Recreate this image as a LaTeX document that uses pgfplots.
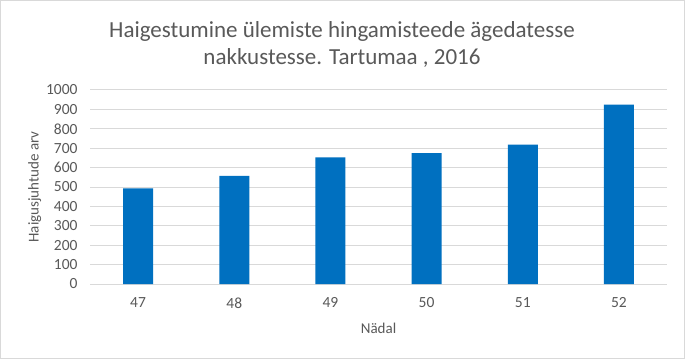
\documentclass[border=0pt]{standalone}
\usepackage{pgfplots}
\pgfplotsset{compat=1.18}
\usepackage{fontspec}
\setmainfont{Carlito}
\definecolor{barblue}{HTML}{0070C0}
\definecolor{gridgray}{HTML}{D9D9D9}
\definecolor{txtgray}{HTML}{595959}
\begin{document}
\begin{tikzpicture}[x=1bp,y=1bp]
\draw[draw=gridgray, line width=1bp, fill=white] (0.5,0.5) rectangle (684.5,358.5);
\node[text=txtgray, font=\fontsize{23bp}{27bp}\selectfont, align=center, anchor=center] at (342,315) {Haigestumine ülemiste hingamisteede ägedatesse\\nakkustesse. Tartumaa , 2016};
\begin{axis}[
  at={(90bp,75bp)}, anchor=south west,
  scale only axis, width=577bp, height=194bp,
  xmin=-0.5, xmax=5.5, ymin=0, ymax=1000,
  ytick={0,100,...,1000},
  xtick={0,1,2,3,4,5},
  xticklabels={47,48,49,50,51,52},
  axis line style={draw=none},
  ymajorgrids, grid style={gridgray, line width=1bp},
  major tick length=0pt,
  tick label style={text=txtgray, font=\fontsize{15.5bp}{17bp}\selectfont},
  /pgf/number format/assume math mode=true,
  /pgf/number format/1000 sep={},
  yticklabel style={xshift=-9bp},
  xticklabel style={yshift=-10bp},
  xlabel={Nädal}, ylabel={Haigusjuhtude arv},
  label style={text=txtgray, font=\fontsize{15bp}{17bp}\selectfont},
  xlabel style={yshift=-8bp},
  ylabel style={yshift=-2bp},
  clip=false,
]
\addplot[ybar, bar width=30bp, fill=barblue, draw=none] coordinates {
(0,493) (1,557) (2,653) (3,674) (4,718) (5,924)};
\end{axis}
\end{tikzpicture}
\end{document}
